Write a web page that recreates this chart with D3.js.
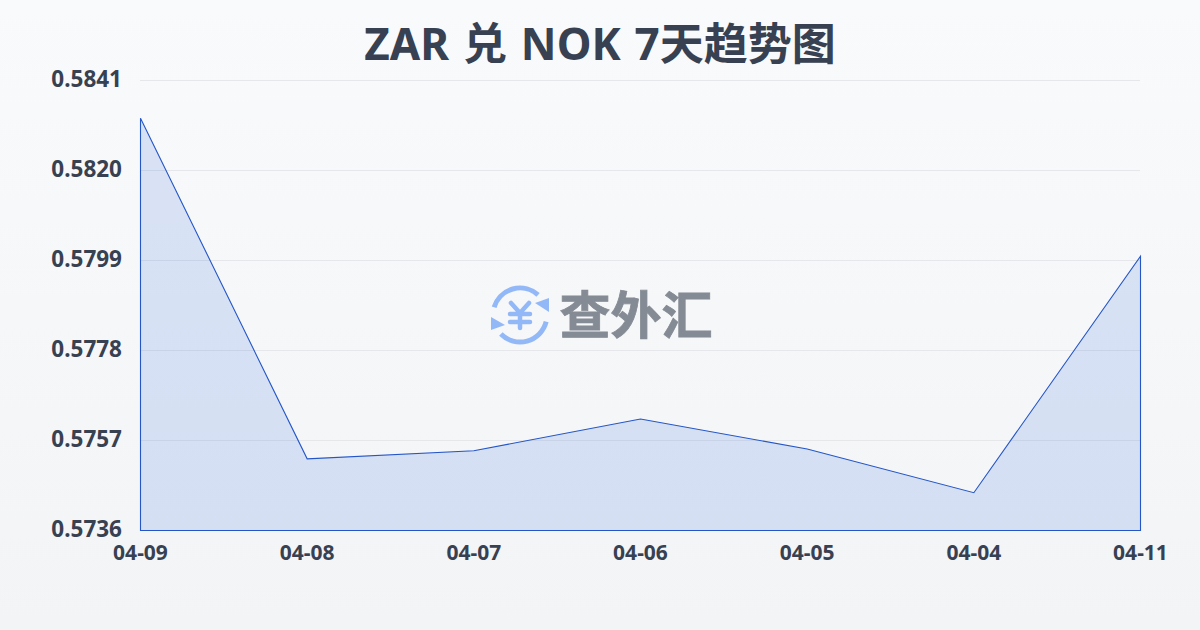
<!DOCTYPE html>
<html>
<head>
<meta charset="utf-8">
<script src="https://cdn.jsdelivr.net/npm/d3@7"></script>
<style>
  html, body { margin: 0; padding: 0; }
  body { width: 1200px; height: 630px; overflow: hidden; }
  text { font-family: "Noto Sans", "Noto Sans CJK SC", sans-serif; }
</style>
</head>
<body>
<div id="chart"></div>
<script>
const title = "ZAR 兑 NOK 7天趋势图";
const dates = ["04-09", "04-08", "04-07", "04-06", "04-05", "04-04", "04-11"];
const rates = [0.58321, 0.57526, 0.57545, 0.57619, 0.57549, 0.57447, 0.57999];
const yTicks = [0.5736, 0.5757, 0.5778, 0.5799, 0.5820, 0.5841];

const width = 1200;
const height = 630;
const margin = { top: 80, right: 60, bottom: 100, left: 140 };
const textColor = "#374151";

const svg = d3.select("#chart")
  .append("svg")
  .attr("width", width)
  .attr("height", height)
  .style("display", "block");

// Background
const grad = svg.append("defs").append("linearGradient")
  .attr("id", "bg")
  .attr("x1", 0).attr("y1", 0).attr("x2", 0).attr("y2", 1);
grad.append("stop").attr("offset", "0%").attr("stop-color", "#f9fafb");
grad.append("stop").attr("offset", "100%").attr("stop-color", "#f3f4f6");

svg.append("rect")
  .attr("width", width)
  .attr("height", height)
  .attr("fill", "url(#bg)");

svg.append("text")
  .attr("x", width / 2)
  .attr("y", 60)
  .attr("text-anchor", "middle")
  .attr("fill", "#374151")
  .style("font-size", "44px")
  .style("font-weight", 700)
  .style("word-spacing", "2.5px")
  .text(title);

const x = d3.scalePoint()
  .domain(dates)
  .range([margin.left, width - margin.right]);

const y = d3.scaleLinear()
  .domain([yTicks[0], yTicks[yTicks.length - 1]])
  .range([height - margin.bottom, margin.top]);

// Grid
svg.append("g")
  .selectAll("line")
  .data(yTicks)
  .enter()
  .append("line")
  .attr("x1", margin.left)
  .attr("x2", width - margin.right)
  .attr("y1", d => y(d) + 0.5)
  .attr("y2", d => y(d) + 0.5)
  .attr("stroke", "#e5e7eb");

// Axis labels
const yAxis = svg.append("g")
  .attr("transform", `translate(${margin.left}, 0)`)
  .call(d3.axisLeft(y).tickValues(yTicks).tickFormat(d3.format(".4f")).tickSize(0).tickPadding(18));
yAxis.select(".domain").remove();
yAxis.selectAll("text")
  .attr("dy", "0.27em")
  .attr("fill", textColor)
  .style("font-size", "22.5px")
  .style("font-weight", 700);

const xAxis = svg.append("g")
  .attr("transform", `translate(0, ${height - margin.bottom})`)
  .call(d3.axisBottom(x).tickSize(0).tickPadding(15));
xAxis.select(".domain").remove();
xAxis.selectAll("text")
  .attr("fill", textColor)
  .style("font-size", "21px")
  .style("font-weight", 700);

// Area
const area = d3.area()
  .x((d, i) => x(dates[i]) + 0.5)
  .y0(y(yTicks[0]) + 0.5)
  .y1(d => y(d));

svg.append("path")
  .datum(rates)
  .attr("d", area)
  .attr("fill", "#1e5adf")
  .attr("fill-opacity", 0.14)
  .attr("stroke", "#2456c8")
  .attr("stroke-width", 1.1);

// Watermark
const mark = svg.append("g").attr("transform", "translate(520, 315)");
const blue = "#93b8f8";
mark.append("path")
  .attr("d", d3.arc()({ innerRadius: 27, outerRadius: 27, startAngle: -1.28, endAngle: 0.73 }))
  .attr("fill", "none").attr("stroke", blue).attr("stroke-width", 5).attr("stroke-linecap", "round");
mark.append("path")
  .attr("d", d3.arc()({ innerRadius: 27, outerRadius: 27, startAngle: 1.82, endAngle: 3.93 }))
  .attr("fill", "none").attr("stroke", blue).attr("stroke-width", 5).attr("stroke-linecap", "round");
mark.append("path").attr("d", "M29,-17 L29,-3 L15,-12 Z").attr("fill", blue);
mark.append("path").attr("d", "M-29,2 L-29,15 L-15,10 Z").attr("fill", blue);
mark.append("path")
  .attr("d", "M-9,-12 L0,-2 L9,-12 M-10,-1 H10 M-10,7 H10 M0,-2 V13")
  .attr("fill", "none").attr("stroke", blue).attr("stroke-width", 4.5).attr("stroke-linecap", "round");

svg.append("text")
  .attr("x", 636)
  .attr("y", 334)
  .attr("text-anchor", "middle")
  .attr("fill", "#858b94")
  .attr("stroke", "#858b94")
  .attr("stroke-width", 0.8)
  .style("font-family", '"Noto Sans CJK SC"')
  .style("font-size", "51px")
  .style("font-weight", 700)
  .text("查外汇");
</script>
</body>
</html>
